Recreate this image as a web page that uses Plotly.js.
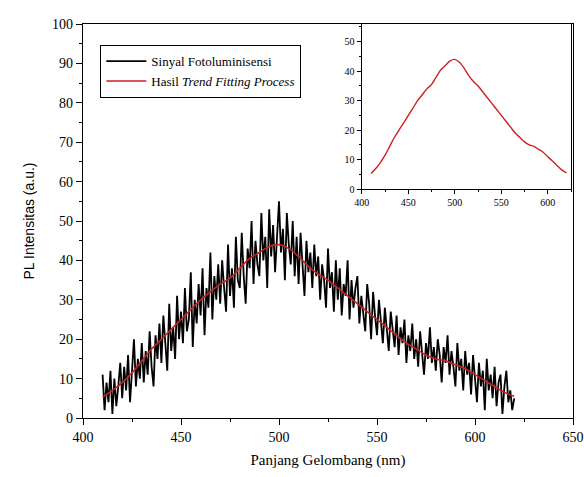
<!DOCTYPE html>
<html><head><meta charset="utf-8">
<script src="https://cdn.plot.ly/plotly-3.0.1.min.js"></script>
<style>html,body{margin:0;padding:0;background:#fff;}#chart{width:584px;height:477px;}</style>
</head><body><div id="chart"></div>
<script>
// Noisy photoluminescence signal, 1 nm steps from 410 to 620 nm
const signalStart = 410;
const signalValues = [
 11, 2, 9, 4, 12, 1, 10, 3, 8, 14,
 5, 13, 7, 16, 4, 12, 20, 8, 15, 10,
 19, 9, 17, 11, 22, 13, 8, 21, 15, 24,
 14, 26, 18, 12, 29, 17, 23, 15, 31, 20,
 27, 19, 33, 22, 25, 37, 18, 30, 24, 34,
 26, 38, 21, 33, 28, 42, 25, 36, 30, 39,
 29, 40, 33, 27, 44, 31, 38, 28, 46, 35,
 33, 47, 36, 29, 43, 38, 50, 34, 45, 39,
 36, 52, 40, 46, 33, 53, 41, 49, 37, 47,
 55, 42, 48, 35, 52, 44, 39, 50, 36, 46,
 34, 47, 40, 31, 45, 37, 42, 33, 44, 36,
 41, 30, 39, 35, 28, 43, 33, 37, 27, 40,
 30, 38, 26, 34, 31, 40, 25, 35, 28, 33,
 36, 24, 31, 27, 22, 34, 29, 20, 32, 26,
 21, 30, 24, 19, 28, 23, 17, 27, 22, 18,
 26, 16, 23, 19, 25, 14, 21, 17, 24, 15,
 20, 13, 22, 17, 11, 19, 15, 23, 14, 18,
 12, 20, 16, 9, 18, 14, 21, 11, 17, 13,
 8, 19, 12, 15, 7, 17, 11, 14, 6, 16,
 10, 4, 14, 8, 12, 2, 15, 7, 11, 5,
 13, 3, 9, 11, 1, 8, 12, 4, 7, 2, 5
];
const signalX = signalValues.map((v, i) => signalStart + i);

// Trend fitting result
const trendX = [410,415,420,425,430,435,440,445,450,455,460,465,470,475,480,485,490,495,500,505,510,515,520,525,530,535,540,545,550,555,560,565,570,575,580,585,590,595,600,605,610,615,620];
const trendY = [5.3,7,9,11.5,14.5,17.5,20,22.5,25,27.5,30,32,34,35.5,38,40.5,42,43.5,44,43,41,38.5,36.5,35,33,31,29,27,25,23,21,19,17.5,16,15,14.5,13.5,12.5,11,9.5,8,6.5,5.5];

const names = ["Sinyal Fotoluminisensi", "Hasil <i>Trend Fitting Process</i>"];
const xTitle = "Panjang Gelombang (nm)";
const yTitle = "PL Intensitas (a.u.)";
const xTicks = [400, 450, 500, 550, 600, 650];
const yTicks = [0,10,20,30,40,50,60,70,80,90,100];
const insetXTicks = [400, 450, 500, 550, 600];
const insetYTicks = [0, 10, 20, 30, 40, 50];

const serif = "Liberation Serif, Times New Roman, serif";
const red = "#cc2020";

const traces = [
  {x: signalX, y: signalValues, type: "scatter", mode: "lines", name: names[0],
   line: {color: "#000", width: 1.8}, xaxis: "x", yaxis: "y"},
  {x: trendX, y: trendY, type: "scatter", mode: "lines", name: names[1],
   line: {color: red, width: 1.6, shape: "spline"}, xaxis: "x", yaxis: "y"},
  {x: trendX, y: trendY, type: "scatter", mode: "lines", showlegend: false,
   line: {color: red, width: 1.4, shape: "spline"}, xaxis: "x2", yaxis: "y2"}
];

const axCommon = {showline: true, linecolor: "#000", linewidth: 1.3, mirror: true,
  ticks: "outside", tickcolor: "#000", showgrid: false, zeroline: false};

const layout = {
  width: 584, height: 477,
  margin: {l: 83, r: 11, t: 24, b: 59},
  paper_bgcolor: "#fff", plot_bgcolor: "#fff",
  font: {family: serif, color: "#000", size: 13},
  showlegend: true,
  legend: {x: 0.035, y: 0.947, xanchor: "left", yanchor: "top",
    bordercolor: "#000", borderwidth: 1.2, bgcolor: "#fff", itemwidth: 40,
    font: {family: serif, size: 13}, tracegroupgap: 0},
  xaxis: Object.assign({}, axCommon, {range: [400, 650], tickvals: xTicks, ticklen: 6,
    minor: {dtick: 25, ticks: "outside", ticklen: 3, tickcolor: "#000"},
    domain: [0, 1], anchor: "y", tickfont: {size: 14},
    title: {text: xTitle, font: {family: serif, size: 15}, standoff: 10}}),
  yaxis: Object.assign({}, axCommon, {range: [0, 100], tickvals: yTicks, ticklen: 6,
    minor: {dtick: 5, ticks: "outside", ticklen: 3, tickcolor: "#000"},
    domain: [0, 1], anchor: "x", tickfont: {size: 14},
    title: {text: yTitle, font: {family: "Liberation Sans, Arial, sans-serif", size: 14}, standoff: 14}}),
  xaxis2: Object.assign({}, axCommon, {range: [400, 625], tickvals: insetXTicks, ticklen: 4,
    domain: [0.569, 0.996], anchor: "y2", tickfont: {size: 10},
    minor: {dtick: 25, ticks: "outside", ticklen: 2, tickcolor: "#000"}}),
  yaxis2: Object.assign({}, axCommon, {range: [0, 56], tickvals: insetYTicks, ticklen: 4,
    domain: [0.581, 1], anchor: "x2", tickfont: {size: 10},
    minor: {dtick: 5, ticks: "outside", ticklen: 2, tickcolor: "#000"}})
};

Plotly.newPlot("chart", traces, layout, {staticPlot: true, displayModeBar: false});
</script>
</body></html>
